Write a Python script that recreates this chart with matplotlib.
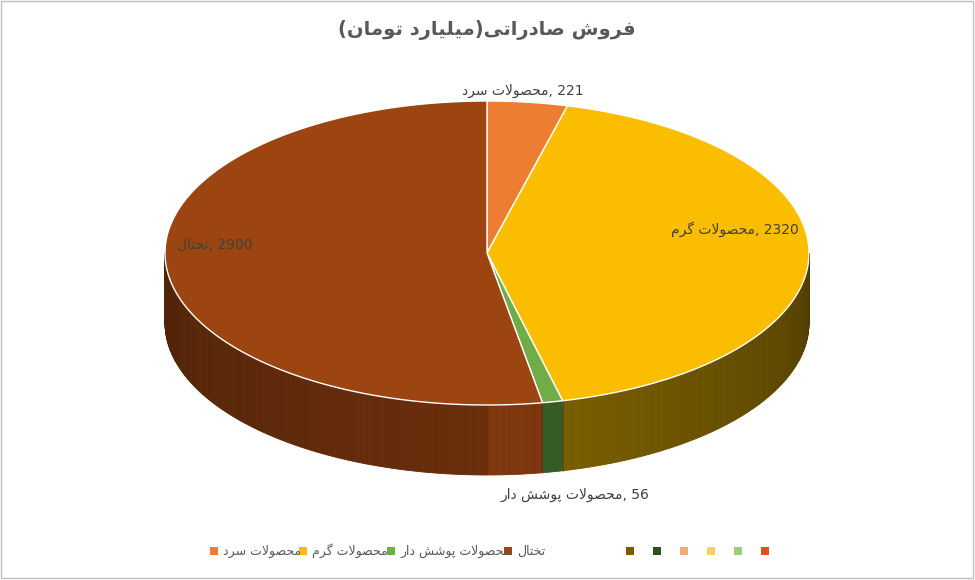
import numpy as np
import matplotlib
matplotlib.use("Agg")
import matplotlib.pyplot as plt
from matplotlib.patches import Polygon, Rectangle

categories = ["محصولات سرد", "محصولات گرم", "محصولات پوشش دار", "تختال"]
values = [221, 2320, 56, 2900]
title_main = "فروش صادراتی"
title_unit = "میلیارد تومان"
top_colors = ["#ED7D31", "#FBBD00", "#70AD47", "#9C4510"]
side_colors = ["#8A4518", "#6B5200", "#2E5020", "#6A2E0B"]
extra_legend_colors = ["#7A5A00", "#2E5020", "#F4A877", "#FDD05A", "#9CCB7E", "#E4501A"]

# --- minimal Arabic/Persian shaping (presentation forms) ---
FORMS = {
    'ا': ('\uFE8D', '\uFE8E', None, None), 'د': ('\uFEA9', '\uFEAA', None, None),
    'ر': ('\uFEAD', '\uFEAE', None, None), 'و': ('\uFEED', '\uFEEE', None, None),
    'ف': ('\uFED1', '\uFED2', '\uFED3', '\uFED4'), 'ش': ('\uFEB5', '\uFEB6', '\uFEB7', '\uFEB8'),
    'ص': ('\uFEB9', '\uFEBA', '\uFEBB', '\uFEBC'), 'ت': ('\uFE95', '\uFE96', '\uFE97', '\uFE98'),
    'ی': ('\uFBFC', '\uFBFD', '\uFBFE', '\uFBFF'), 'م': ('\uFEE1', '\uFEE2', '\uFEE3', '\uFEE4'),
    'ل': ('\uFEDD', '\uFEDE', '\uFEDF', '\uFEE0'), 'ن': ('\uFEE5', '\uFEE6', '\uFEE7', '\uFEE8'),
    'ح': ('\uFEA1', '\uFEA2', '\uFEA3', '\uFEA4'), 'س': ('\uFEB1', '\uFEB2', '\uFEB3', '\uFEB4'),
    'گ': ('\uFB92', '\uFB93', '\uFB94', '\uFB95'), 'پ': ('\uFB56', '\uFB57', '\uFB58', '\uFB59'),
    'خ': ('\uFEA5', '\uFEA6', '\uFEA7', '\uFEA8'),
}

def shape(s):
    out = []
    n = len(s)
    i = 0
    while i < n:
        c = s[i]
        if c not in FORMS:
            out.append(c); i += 1; continue
        prev = s[i-1] if i > 0 else ''
        jp = prev in FORMS and FORMS[prev][2] is not None
        if c == 'ل' and i + 1 < n and s[i+1] == 'ا':
            out.append('\uFEFC' if jp else '\uFEFB'); i += 2; continue
        nxt = s[i+1] if i + 1 < n else ''
        jn = FORMS[c][2] is not None and nxt in FORMS
        f = FORMS[c]
        if jp and jn: g = f[3]
        elif jp: g = f[1]
        elif jn: g = f[2]
        else: g = f[0]
        out.append(g); i += 1
    return ''.join(out)[::-1]

plt.rcParams['font.family'] = ['DejaVu Sans']
fig = plt.figure(figsize=(9.75, 5.8), dpi=100)
ax = fig.add_axes([0, 0, 1, 1])
ax.set_xlim(0, 975); ax.set_ylim(580, 0); ax.axis('off')
ax.add_patch(Rectangle((1, 1), 972, 577, fill=False, ec='#BFBFBF', lw=1))

cx, cy, rx, ry, depth = 487, 253, 322, 152, 70
total = sum(values)
bounds = np.concatenate([[0], np.cumsum(values)]) / total * 2 * np.pi

def pt(t, dy=0):
    return cx + rx * np.sin(t), cy - ry * np.cos(t) + dy

# side walls (front half visible: pi/2..3pi/2)
for k in range(len(values)):
    a0, a1 = max(bounds[k], np.pi/2), min(bounds[k+1], 3*np.pi/2)
    if a1 <= a0:
        continue
    steps = max(2, int((a1 - a0) / 0.01))
    ts = np.linspace(a0, a1, steps + 1)
    base = np.array(matplotlib.colors.to_rgb(side_colors[k]))
    for j in range(steps):
        tm = 0.5 * (ts[j] + ts[j+1])
        shade = 0.75 + 0.45 * (1 - abs(tm - np.pi) / (np.pi/2)) * (tm < np.pi) + 0.25 * (tm >= np.pi) * (1 - (tm - np.pi)/(np.pi/2))
        col = np.clip(base * shade, 0, 1)
        x0, y0 = pt(ts[j]); x1, y1 = pt(ts[j+1])
        ax.add_patch(Polygon([(x0, y0), (x1, y1), (x1, y1 + depth), (x0, y0 + depth)],
                             closed=True, fc=col, ec=col, lw=0.6))
    x0, y0 = pt(a0)
    ax.plot([x0, x0], [y0, y0 + depth], color='#3a2a10', lw=0.6, alpha=0.5)

# top faces
for k in range(len(values)):
    ts = np.linspace(bounds[k], bounds[k+1], 200)
    xs, ys = pt(ts)
    poly = [(cx, cy)] + list(zip(xs, ys))
    ax.add_patch(Polygon(poly, closed=True, fc=top_colors[k], ec='white', lw=1))

# data labels
lab_pos = [(523, 91), (735, 229), (575, 495), (215, 245)]
for (x, y), c, v in zip(lab_pos, categories, values):
    ax.text(x, y, shape(c) + ", " + str(v), ha='center', va='center', fontsize=10, color='#404040')

# title
ax.text(487, 30, "(" + shape(title_unit) + ")" + shape(title_main), ha='center', va='center',
        fontsize=14, fontweight='bold', color='#595959')

# legend
lx = 210
ly = 551
for c, col in zip(categories, top_colors):
    ax.add_patch(Rectangle((lx, ly - 4), 8, 8, fc=col, ec='none'))
    t = ax.text(lx + 13, ly, shape(c), ha='left', va='center', fontsize=9, color='#595959')
    lx += 13 + len(c) * 5.6 + 14
lx = 626
for col in extra_legend_colors:
    ax.add_patch(Rectangle((lx, ly - 4), 8, 8, fc=col, ec='none'))
    lx += 27

fig.savefig("out.png", dpi=100)
